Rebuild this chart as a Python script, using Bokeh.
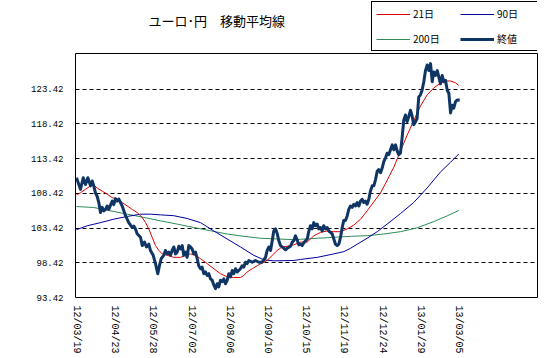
from bokeh.plotting import figure
from bokeh.layouts import column
from bokeh.models import Range1d, FixedTicker, Legend, LegendItem, Label
from bokeh.embed import file_html
from bokeh.resources import INLINE

title_text = "ユーロ･円　移動平均線"
legend_labels = ["21日", "90日", "200日", "終値"]

tick_days = [0, 25, 50, 75, 100, 125, 150, 175, 200, 225, 250]
tick_labels = ["12/03/19", "12/04/23", "12/05/28", "12/07/02", "12/08/06", "12/09/10",
               "12/10/15", "12/11/19", "12/12/24", "13/01/29", "13/03/05"]
y_ticks = [93.42, 98.42, 103.42, 108.42, 113.42, 118.42, 123.42]

# closing price (終値), trading-day index vs value
close_day = [
    0, 2.6, 4.4, 5.9, 7.4, 9.2, 10.3, 11.3, 12.4, 13.5,
    14.6, 15.7, 16.8, 17.9, 19.0, 20.1, 21.1, 23.4, 24.4, 25.5,
    26.6, 27.7, 29.9, 32.1, 34.2, 36.5, 37.5, 38.6, 39.7, 41.9,
    43.0, 44.5, 45.8, 47.3, 48.4, 50.2, 51.7, 53.2, 54.3, 55.4,
    57.1, 58.2, 59.4, 60.4, 61.5, 62.6, 63.7, 64.8, 65.9, 67.0,
    68.1, 69.2, 70.2, 71.3, 72.4, 73.5, 74.6, 75.7, 76.8, 77.9,
    79.0, 80.0, 81.2, 82.2, 83.3, 84.4, 85.5, 86.6, 87.7, 88.8,
    89.9, 91.0, 92.1, 93.1, 94.2, 95.4, 96.4, 97.5, 98.6, 99.7,
    100.8, 101.9, 102.9, 104.1, 105.2, 107.3, 108.4, 109.5, 110.6, 111.7,
    112.8, 115.0, 117.1, 119.3, 121.5, 123.7, 124.8, 125.9, 127.0, 128.1,
    129.1, 130.2, 131.4, 132.4, 133.5, 134.6, 136.8, 137.9, 140.1, 141.2,
    142.2, 143.3, 144.4, 145.5, 146.6, 147.7, 148.8, 151.0, 152.0, 153.1,
    154.2, 155.3, 156.4, 157.5, 158.6, 159.7, 160.8, 161.8, 163.0, 164.1,
    165.1, 166.2, 167.3, 168.4, 169.5, 170.6, 171.7, 172.8, 173.9, 174.9,
    176.0, 177.2, 178.2, 179.3, 180.4, 181.5, 182.6, 183.7, 184.8, 185.9,
    187.0, 188.0, 189.1, 190.2, 191.3, 192.4, 193.5, 194.6, 195.7, 196.8,
    197.8, 199.0, 200.1, 201.1, 202.2, 203.3, 204.4, 205.5, 206.6, 207.7,
    208.8, 209.9, 210.9, 212.0, 213.1, 214.2, 215.3, 216.4, 217.5, 218.6,
    219.7, 220.7, 221.9, 222.9, 224.0, 225.1, 226.2, 227.3, 228.4, 229.5,
    230.6, 231.7, 232.8, 233.8, 234.9, 236.1, 237.1, 238.2, 239.3, 240.4,
    241.5, 242.6, 243.7, 244.8, 245.9, 246.9, 248.0, 249.1, 250.8,
]
close_val = [
    110.67, 108.99, 110.67, 109.7, 110.67, 109.5, 110.2, 109.5, 108.5, 108.0,
    107.1, 105.66, 106.4, 105.9, 106.1, 106.6, 106.1, 107.3, 106.8, 107.66,
    107.3, 107.6, 106.6, 105.2, 104.2, 103.5, 103.7, 103.3, 102.6, 102.1,
    100.9, 101.4, 100.7, 101.1, 100.2, 99.5, 98.3, 96.85, 98.0, 99.0,
    99.5, 100.2, 99.7, 99.95, 99.5, 100.2, 100.7, 99.7, 99.95, 100.8,
    100.4, 100.9, 99.5, 99.95, 99.2, 100.9, 100.7, 100.4, 99.7, 99.95,
    99.0, 98.0, 97.56, 97.8, 96.85, 97.1, 96.6, 96.85, 96.1, 95.9,
    95.2, 94.7, 95.4, 94.95, 95.9, 95.7, 96.1, 95.4, 95.9, 96.85,
    96.4, 97.3, 96.85, 97.56, 97.1, 97.56, 98.0, 97.8, 98.5, 98.3,
    98.75, 98.5, 98.75, 98.5, 98.5, 99.2, 100.2, 100.7, 100.2, 101.6,
    103.0, 103.3, 102.6, 101.6, 100.9, 100.7, 100.3, 100.5, 100.8, 101.4,
    101.6, 102.3, 101.7, 101.0, 101.1, 100.9, 101.3, 101.85, 102.9, 103.75,
    103.3, 104.2, 103.75, 104.0, 103.3, 103.5, 103.0, 103.75, 103.3, 103.5,
    103.0, 102.8, 102.6, 101.85, 101.1, 100.9, 101.1, 102.1, 103.5, 104.5,
    104.5, 105.2, 106.1, 106.6, 106.4, 106.85, 106.6, 107.1, 106.6, 107.3,
    107.56, 107.1, 107.3, 106.85, 107.56, 108.75, 109.5, 109.5, 110.4, 111.6,
    111.85, 111.4, 112.1, 113.0, 113.5, 114.2, 114.0, 114.7, 115.4, 114.7,
    115.4, 114.5, 114.0, 114.2, 116.4, 119.0, 119.7, 118.75, 119.5, 120.4,
    119.5, 118.3, 118.75, 119.2, 122.3, 122.6, 123.3, 124.5, 126.1, 126.9,
    126.1, 127.1, 124.5, 125.9, 125.4, 126.1, 125.2, 124.2, 125.4, 124.5,
    124.7, 123.3, 122.8, 120.0, 121.1, 120.7, 121.6, 121.85, 121.85,
]

ma21_day = [0, 2.6, 5.9, 9.2, 11.3, 13.5, 16.8, 20.1, 23.4, 26.6,
            29.9, 33.2, 36.5, 39.7, 43.0, 45.2, 47.3, 49.5, 51.7, 53.9,
            56.1, 59.4, 63.7, 68.1, 71.3, 74.6, 77.9, 81.2, 85.5, 89.9,
            94.2, 98.6, 102.9, 107.3, 109.5, 111.7, 115.0, 118.3, 121.5, 124.8,
            128.1, 131.4, 134.6, 137.9, 142.2, 146.6, 151.0, 155.3, 159.7, 164.1,
            168.4, 172.8, 177.2, 181.5, 185.9, 190.2, 194.6, 199.0, 203.3, 207.7,
            212.0, 216.4, 220.7, 225.1, 229.5, 233.8, 238.2, 241.5, 244.8, 248.0,
            250.2]
ma21_val = [108.2, 108.5, 109.0, 109.5, 109.6, 109.2, 108.75, 108.3, 107.8, 107.56,
            107.1, 106.6, 106.1, 105.66, 104.95, 104.2, 103.3, 102.1, 100.9, 100.2,
            99.7, 99.5, 99.2, 99.2, 99.5, 99.7, 99.5, 99.0, 98.3, 97.56,
            96.85, 96.4, 96.3, 96.3, 96.6, 97.1, 97.56, 98.0, 98.4, 98.75,
            99.5, 100.2, 100.7, 100.8, 101.0, 101.4, 101.4, 102.3, 102.8, 103.0,
            102.9, 102.9, 103.3, 103.85, 104.7, 105.9, 107.2, 108.5, 110.3, 112.2,
            114.5, 116.8, 118.9, 121.0, 122.6, 123.6, 124.3, 124.6, 124.6, 124.35,
            123.95]

ma90_day = [0, 7.0, 15.7, 24.4, 33.2, 41.9, 48.4, 55.0, 63.7, 72.4,
            81.2, 89.9, 98.6, 107.3, 116.0, 122.5, 129.1, 142.2, 146.6, 157.5,
            168.4, 175.0, 179.3, 183.7, 190.2, 196.8, 203.3, 212.0, 220.7, 229.5,
            238.2, 244.8, 250.2]
ma90_val = [103.18, 103.75, 104.2, 104.7, 105.09, 105.42, 105.42, 105.32, 105.2, 104.8,
            104.2, 103.0, 101.85, 100.7, 99.5, 98.85, 98.7, 98.75, 98.9, 99.2,
            99.7, 100.03, 100.5, 101.1, 101.95, 102.9, 103.99, 105.5, 107.1, 109.2,
            111.5, 112.9, 114.09]

ma200_day = [0, 11.3, 22.3, 33.2, 44.1, 55.0, 65.9, 76.8, 87.7, 98.6,
             109.5, 120.4, 131.4, 142.2, 146.6, 157.5, 168.4, 179.3, 190.2, 201.1,
             212.0, 222.9, 233.8, 242.6, 250.2]
ma200_val = [106.52, 106.38, 105.9, 105.42, 104.95, 104.46, 103.99, 103.5, 103.03, 102.56,
             102.23, 101.95, 101.85, 101.75, 101.8, 101.95, 102.09, 102.23, 102.32, 102.56,
             102.9, 103.45, 104.35, 105.18, 105.95]

assert len(close_day) == len(close_val)
assert len(ma21_day) == len(ma21_val)
assert len(ma90_day) == len(ma90_val)
assert len(ma200_day) == len(ma200_val)

C21, C90, C200, CCLOSE = "#E00000", "#0000A0", "#2E8B57", "#0E3563"
NAN = float("nan")

# ---------- header: title + legend ----------
head = figure(width=557, height=52, output_backend="svg", toolbar_location=None,
              x_range=Range1d(0, 1), y_range=Range1d(0, 1),
              x_axis_type=None, y_axis_type=None, title_location=None,
              min_border_left=75, min_border_right=20,
              min_border_top=0, min_border_bottom=0,
              background_fill_color="white", border_fill_color="white")
head.outline_line_color = None
head.grid.visible = False

title = Label(x=73, y=32, x_units="screen", y_units="screen", text=title_text,
              text_font="Noto Sans CJK JP", text_font_size="13px",
              text_color="black", text_align="left", text_baseline="middle")
head.add_layout(title)

# legend handles (no data of their own)
h21 = head.line([NAN], [NAN], line_color=C21, line_width=1)
h90 = head.line([NAN], [NAN], line_color=C90, line_width=1)
h200 = head.line([NAN], [NAN], line_color=C200, line_width=1)
hc = head.line([NAN], [NAN], line_color=CCLOSE, line_width=3)

legend = Legend(items=[LegendItem(label=legend_labels[0], renderers=[h21]),
                       LegendItem(label=legend_labels[1], renderers=[h90]),
                       LegendItem(label=legend_labels[2], renderers=[h200]),
                       LegendItem(label=legend_labels[3], renderers=[hc])],
                location=(296, 1), orientation="horizontal", ncols=2,
                padding=4, spacing=10, margin=0,
                glyph_width=34, glyph_height=14, label_height=14, label_width=37,
                label_standoff=3,
                border_line_color="black", border_line_width=1, border_line_alpha=1,
                background_fill_color="white", background_fill_alpha=1,
                label_text_font="Noto Sans CJK JP", label_text_font_size="10px",
                label_text_color="black")
head.add_layout(legend, "center")

# ---------- main chart ----------
p = figure(width=557, height=304, output_backend="svg", toolbar_location=None,
           x_range=Range1d(-0.65, 301.7), y_range=Range1d(93.42, 128.56),
           title_location=None,
           min_border_left=75, min_border_right=20, min_border_top=1, min_border_bottom=56,
           background_fill_color="white", border_fill_color="white")

p.outline_line_color = "black"
p.outline_line_width = 1
p.outline_line_alpha = 1

p.xgrid.visible = False
p.ygrid.ticker = FixedTicker(ticks=y_ticks)
p.ygrid.grid_line_color = "black"
p.ygrid.grid_line_dash = "4 3"
p.ygrid.grid_line_width = 1

p.yaxis.ticker = FixedTicker(ticks=y_ticks)
p.yaxis.major_label_overrides = {t: f"{t:.2f}" for t in y_ticks}
p.xaxis.ticker = FixedTicker(ticks=tick_days)
p.xaxis.major_label_overrides = dict(zip(tick_days, tick_labels))
p.xaxis.major_label_orientation = "vertical"

for ax in (p.xaxis[0], p.yaxis[0]):
    ax.axis_line_color = None
    ax.major_tick_line_color = None
    ax.minor_tick_line_color = None
    ax.major_tick_out = 0
    ax.major_tick_in = 0
    ax.major_label_text_font = "Liberation Mono"
    ax.major_label_text_color = "black"
p.yaxis.major_label_text_font_size = "9px"
p.xaxis.major_label_text_font_size = "10px"
p.yaxis.major_label_standoff = 12
p.xaxis.major_label_standoff = 8

p.line(ma200_day, ma200_val, line_color=C200, line_width=1)
p.line(ma90_day, ma90_val, line_color=C90, line_width=1)
p.line(ma21_day, ma21_val, line_color=C21, line_width=1)
p.line(close_day, close_val, line_color=CCLOSE, line_width=3, line_join="round")

layout = column(head, p, spacing=0)
open("out.html", "w").write(file_html(layout, INLINE))
